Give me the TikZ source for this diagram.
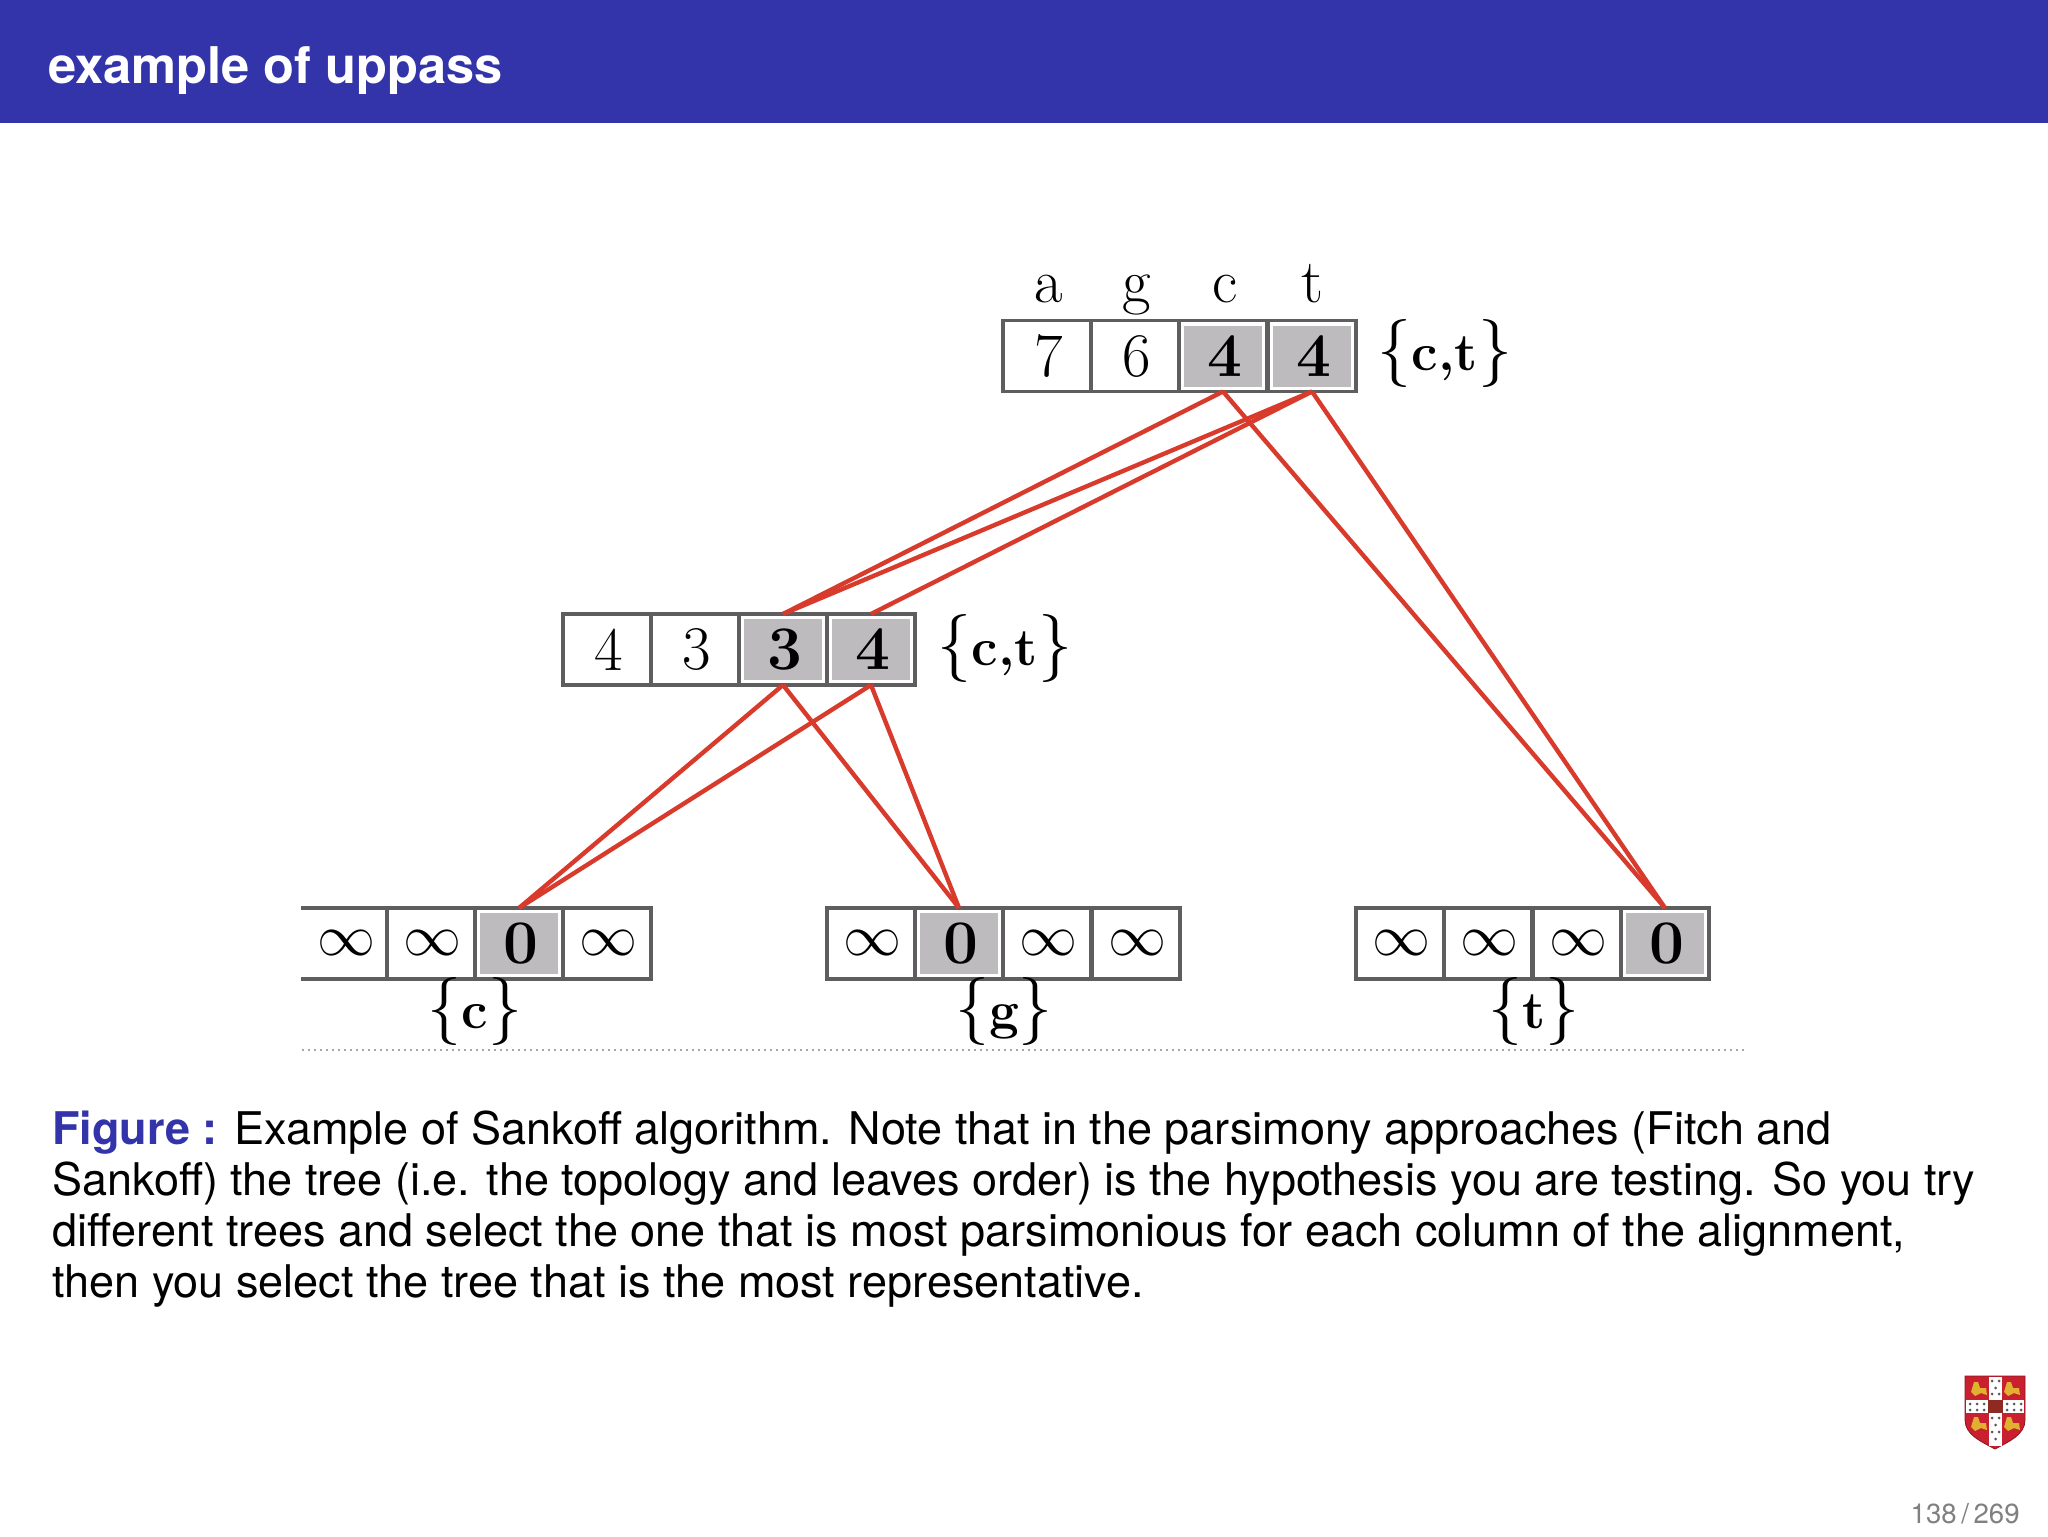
\RequirePackage{fix-cm}
\documentclass[tikz,border=0pt]{standalone}
\usepackage{fontspec}
\setsansfont{TeX Gyre Heros}
\definecolor{barblue}{HTML}{3333AA}
\definecolor{linered}{HTML}{D83A2C}
\definecolor{cellgray}{HTML}{BDBBBD}
\definecolor{edgegray}{HTML}{5E5E5E}
\definecolor{crestred}{HTML}{C8202E}
\definecolor{crestgold}{HTML}{E0B030}
\definecolor{crestmaroon}{HTML}{8E2A22}
\newcommand{\cm}{\fontsize{31}{36}\selectfont}
\newcommand{\cmb}{\fontsize{31}{36}\selectfont\bfseries}
\newcommand{\setof}[1]{{\fontsize{34}{38}\selectfont$\{$}\textbf{#1}{\fontsize{34}{38}\selectfont$\}$}}
\newcommand{\infcell}{{\fontsize{29}{34}\selectfont$\infty$}}
\tikzset{
  x=0.5pt,y=-0.5pt,
  cell/.style={draw=edgegray,line width=1.9pt,fill=white,minimum width=44.15pt,minimum height=35.5pt,inner sep=0pt,outer sep=0pt,font=\cm,execute at begin node={\hspace{1.6pt}}},
  opencell/.style={cell,draw=none},
  shaded/.style={cell,font=\cmb,path picture={\fill[cellgray] ([shift={(2.5pt,2.5pt)}]path picture bounding box.south west) rectangle ([shift={(-2.5pt,-2.5pt)}]path picture bounding box.north east);}},
  head/.style={anchor=base,font=\cm,inner sep=0pt},
  setlabel/.style={anchor=base,font=\fontsize{26.5}{34}\selectfont,inner sep=0pt},
  link/.style={draw=linered,line width=2.2pt},
  ermine/.style={fill=black!65,inner sep=0pt,minimum size=1.5pt,circle}
}
\begin{document}
\begin{tikzpicture}
\useasboundingbox (0,0) rectangle (2048,1536);
\fill[barblue] (0,0) rectangle (2048,123);
\node[anchor=base west,inner sep=0pt,text=white,font=\sffamily\bfseries\fontsize{25.3}{30}\selectfont] (title) at (48,83.5) {example of uppass};
% top row
\node[cell] (t1) at (1047,356) {7};
\node[cell] (t2) at (1135,356) {6};
\node[shaded] (t3) at (1223,356) {4};
\node[shaded] (t4) at (1312,356) {4};
\node[head] (ha) at (1049,302) {a};
\node[head] (hg) at (1137,302) {g};
\node[head] (hc) at (1225,302) {c};
\node[head] (ht) at (1312,302) {t};
\node[setlabel] (lt) at (1445,370) {\setof{c,t}};
% middle row
\node[cell] (m1) at (607,649.5) {4};
\node[cell] (m2) at (695,649.5) {3};
\node[shaded] (m3) at (783,649.5) {3};
\node[shaded] (m4) at (871,649.5) {4};
\node[setlabel] (lm) at (1005,665) {\setof{c,t}};
% leaves
\node[opencell] (a1) at (345,943.5) {\infcell};
\node[cell] (a2) at (431,943.5) {\infcell};
\node[shaded] (a3) at (519,943.5) {0};
\node[cell] (a4) at (607,943.5) {\infcell};
\draw[edgegray,line width=1.9pt] (a1.north west) -- (a1.north east) (a1.south west) -- (a1.south east);
\node[cell] (b1) at (871,943.5) {\infcell};
\node[shaded] (b2) at (959,943.5) {0};
\node[cell] (b3) at (1047,943.5) {\infcell};
\node[cell] (b4) at (1136,943.5) {\infcell};
\node[cell] (c1) at (1400,943.5) {\infcell};
\node[cell] (c2) at (1488,943.5) {\infcell};
\node[cell] (c3) at (1577,943.5) {\infcell};
\node[shaded] (c4) at (1665,943.5) {0};
\node[setlabel] (la) at (475,1028) {\setof{c}};
\node[setlabel] (lb) at (1004,1028) {\setof{g}};
\node[setlabel] (lc) at (1534,1028) {\setof{t}};
% connectors
\draw[link] (t3.south) -- (m3.north);
\draw[link] (t4.south) -- (m3.north);
\draw[link] (t4.south) -- (m4.north);
\draw[link] (t3.south) -- (c4.north);
\draw[link] (t4.south) -- (c4.north);
\draw[link] (m3.south) -- (a3.north);
\draw[link] (m4.south) -- (a3.north);
\draw[link] (m3.south) -- (b2.north);
\draw[link] (m4.south) -- (b2.north);
% dotted rule
\coordinate (ruleL) at (302,1050);
\coordinate (ruleR) at (1747,1050);
\draw[black!35,line width=1pt,dotted] (ruleL) -- (ruleR);
% caption
\node[anchor=base west,inner sep=0pt,align=left,font=\sffamily\fontsize{22.5}{25.5}\selectfont] (cap) at (52,1297.3) {{\color{barblue}\bfseries Figure :} Example of Sankoff algorithm. Note that in the parsimony approaches (Fitch and\\Sankoff) the tree (i.e. the topology and leaves order) is the hypothesis you are testing. So you try\\different trees and select the one that is most parsimonious for each column of the alignment,\\then you select the tree that is the most representative.};
% page number
\node[anchor=base east,inner sep=0pt,text=black!50,font=\sffamily\fontsize{13.8}{16}\selectfont] (page) at (2020,1523) {138\,/\,269};
% crest
\fill[crestred,draw=crestred!70!black,line width=0.4pt] (1965,1376) -- (2025,1376) -- (2025,1420) .. controls (2025,1435) and (2008,1442) .. (1995,1449) .. controls (1982,1442) and (1965,1435) .. (1965,1420) -- cycle;
\fill[white] (1989,1377) rectangle (2002,1446);
\fill[white] (1966,1400) rectangle (2024,1413);
\fill[crestmaroon] (1988,1400) rectangle (2003,1413);
\foreach \p/\q in {1992/1381,1999/1381,1995.5/1388,1992/1394,1999/1394,1992/1418,1999/1418,1995.5/1425,1992/1432,1999/1432,1995.5/1439,1970/1404,1977/1404,1984/1404,1970/1410,1977/1410,1984/1410,2007/1404,2014/1404,2021/1404,2007/1410,2014/1410,2021/1410}
  \node[ermine] at (\p,\q) {};
\foreach \p/\q in {1979/1389,2012/1389,1979/1424,2012/1424}
  \fill[crestgold] (\p-8,\q+3) -- (\p-5,\q-7) -- (\p-1,\q-7) -- (\p+1,\q-1) -- (\p+7,\q-1) -- (\p+8,\q+6) -- (\p+2,\q+4) -- (\p-4,\q+7) -- cycle;
\end{tikzpicture}
\end{document}
